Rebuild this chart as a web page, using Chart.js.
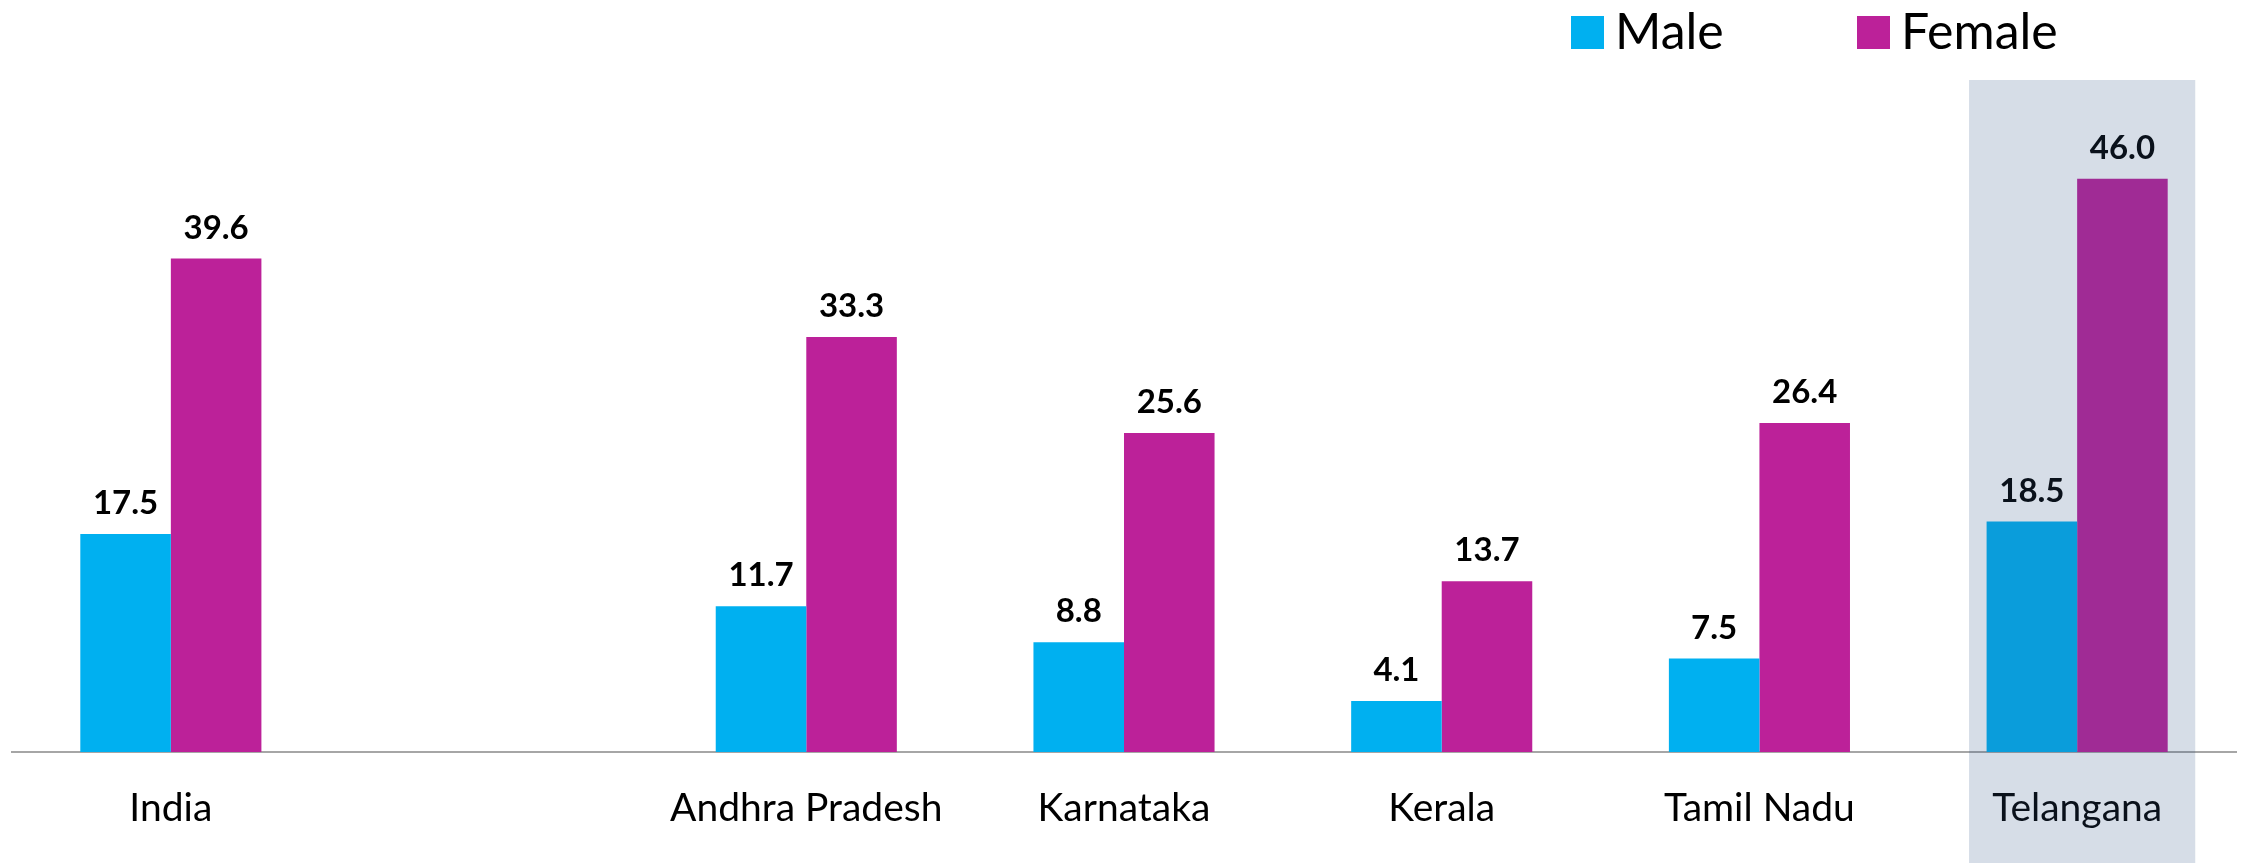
<!DOCTYPE html>
<html>
<head>
<meta charset="utf-8">
<script src="https://cdn.jsdelivr.net/npm/chart.js@4.4.1/dist/chart.umd.min.js"></script>
<style>
html,body{margin:0;padding:0;background:#fff}
#wrap{width:2254px;height:863px;position:relative}
</style>
</head>
<body>
<div id="wrap"><canvas id="chart"></canvas></div>
<script>
const categories = ['India', '', 'Andhra Pradesh', 'Karnataka', 'Kerala', 'Tamil Nadu', 'Telangana']
const male = [17.5, null, 11.7, 8.8, 4.1, 7.5, 18.5]
const female = [39.6, null, 33.3, 25.6, 13.7, 26.4, 46.0]
const seriesNames = ['Male', 'Female']
const seriesColors = ['#00b0f0', '#bc2199']
const highlighted = 'Telangana'

const fontFamily = 'Lato, "Open Sans", sans-serif'

// numbers above each bar
const valueLabels = {
    id: 'valueLabels',
    afterDatasetsDraw(chart){
        const ctx = chart.ctx
        ctx.save()
        ctx.font = `bold 33px ${fontFamily}`
        ctx.fillStyle = '#000'
        ctx.textAlign = 'center'
        ctx.textBaseline = 'bottom'
        chart.data.datasets.forEach((ds, i) => {
            chart.getDatasetMeta(i).data.forEach((bar, j) => {
                const v = ds.data[j]
                if (v == null) return
                ctx.fillText(v.toFixed(1), bar.x, bar.y - 14)
            })
        })
        ctx.restore()
    }
}

// legend drawn top right
const topLegend = {
    id: 'topLegend',
    afterDraw(chart){
        const ctx = chart.ctx
        ctx.save()
        ctx.font = `50px ${fontFamily}`
        ctx.textBaseline = 'middle'
        ctx.textAlign = 'left'
        const starts = [1571, 1857]
        seriesNames.forEach((name, i) => {
            ctx.fillStyle = seriesColors[i]
            ctx.fillRect(starts[i], 16, 33, 33)
            ctx.fillStyle = '#000'
            ctx.fillText(name, starts[i] + 44, 33)
        })
        ctx.restore()
    }
}

// shaded band over the highlighted state
const band = {
    id: 'band',
    afterDraw(chart){
        const ctx = chart.ctx
        const xs = chart.scales.x
        const idx = categories.indexOf(highlighted)
        const cx = xs.getPixelForValue(idx) + 5
        const step = xs.width / categories.length
        const half = step * 0.356
        ctx.save()
        ctx.fillStyle = 'rgba(49,83,137,0.2)'
        ctx.fillRect(cx - half, chart.chartArea.top - 49, half * 2, chart.height)
        ctx.restore()
    }
}

const config = {
    type: 'bar',
    data: {
        labels: categories,
        datasets: [
            { label: seriesNames[0], data: male, backgroundColor: seriesColors[0] },
            { label: seriesNames[1], data: female, backgroundColor: seriesColors[1] }
        ]
    },
    options: {
        responsive: true,
        maintainAspectRatio: false,
        animation: false,
        layout: { padding: { top: 129, left: 12, right: 18, bottom: 0 } },
        datasets: { bar: { categoryPercentage: 0.57, barPercentage: 1.0 } },
        plugins: {
            legend: { display: false },
            tooltip: { enabled: false }
        },
        scales: {
            x: {
                grid: { display: false, drawTicks: false },
                border: { display: true, color: '#a6a6a6', width: 2 },
                ticks: { color: '#000', font: { family: fontFamily, size: 39 }, padding: 33 },
                afterFit(s){ s.height = 111 }
            },
            y: {
                display: false,
                min: 0,
                max: 50
            }
        }
    },
    plugins: [valueLabels, topLegend, band]
}

new Chart(document.getElementById('chart'), config)
</script>
</body>
</html>
